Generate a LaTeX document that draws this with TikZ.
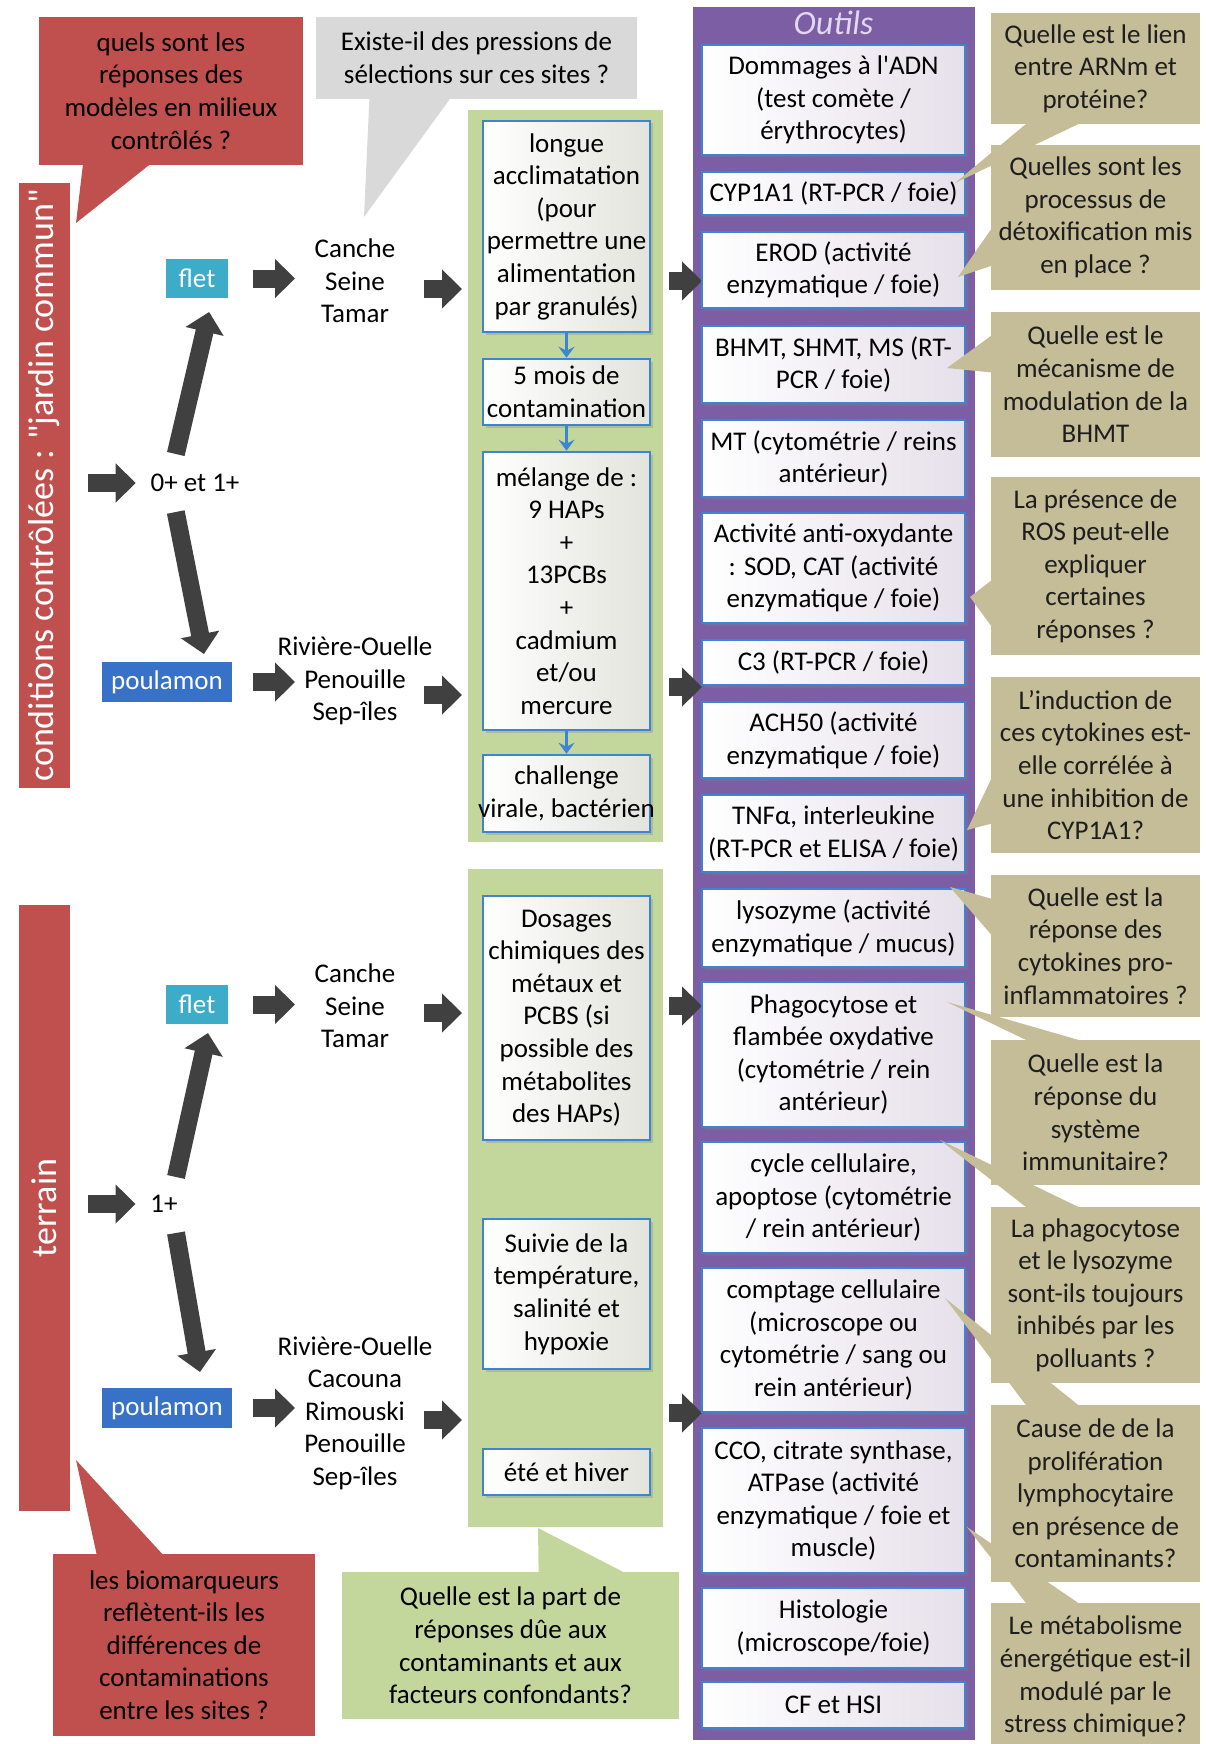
\documentclass[tikz,border=0pt]{standalone}
\usepackage{fontspec}
\setmainfont{Carlito}[Ligatures=TeXOff]
\usetikzlibrary{arrows.meta,shadows,calc}

\definecolor{rougeq}{RGB}{192,80,77}
\definecolor{grisq}{RGB}{217,217,217}
\definecolor{vertp}{RGB}{195,214,155}
\definecolor{violetp}{RGB}{124,94,164}
\definecolor{kakiq}{RGB}{196,189,151}
\definecolor{fletc}{RGB}{60,172,200}
\definecolor{poulc}{RGB}{56,114,200}
\definecolor{bordb}{RGB}{62,132,212}
\definecolor{flechg}{RGB}{64,64,64}
\definecolor{titrev}{RGB}{226,216,240}
\definecolor{fondo}{RGB}{230,224,234}
\definecolor{fondv}{RGB}{226,228,220}
\definecolor{textek}{RGB}{30,30,30}

\pgfdeclarelayer{dessus}
\pgfsetlayers{main,dessus}

\tikzset{every picture/.style={line width=0.75pt}}
\tikzset{
  txt/.style={font=\fontsize{27}{32.6}\selectfont, align=center, inner sep=0pt},
  ombre/.style={drop shadow={opacity=0.3, shadow xshift=2.5pt, shadow yshift=-2.5pt}},
  cadre/.style={draw=white, line width=6pt, ombre},
  bandeau/.style={cadre, fill=rougeq, text=white, inner sep=0pt, font=\fontsize{36}{40}\selectfont, minimum width=57pt},
  espece/.style={txt, draw=white, line width=5pt, ombre, text=white},
  lieux/.style={txt},
  etape/.style={txt, draw=bordb, line width=2.5pt, left color=white, right color=fondv, ombre, minimum width=167pt},
  outil/.style={txt, draw=bordb, line width=2.5pt, left color=white, right color=fondo, ombre, minimum width=263pt},
  question/.style={txt, fill=kakiq, text=textek, minimum width=209pt},
  grosse/.style={draw=flechg, line width=18pt, -{Triangle[width=38pt,length=20pt]}},
  petite/.style={draw=bordb, line width=3pt, -{Stealth[length=11pt,width=16pt,inset=4pt]}},
}

\begin{document}
\begin{tikzpicture}[x=1pt,y=-1pt]
	\useasboundingbox (0,0) rectangle (1205,1744);

	%Shape: Rectangle -- colonne Outils
	\node[cadre, fill=violetp, minimum width=288pt, minimum height=1739pt] (outils) at (834,873.5) {};
	% Text Node
	\node[font=\itshape\fontsize{34}{40}\selectfont, text=titrev, inner sep=0pt] (titre) at (833.5,23) {Outils};

	%Shape: Rectangle -- panneaux verts
	\node[cadre, fill=vertp, minimum width=201pt, minimum height=738pt] (vert1) at (565.5,476) {};
	\node[cadre, fill=vertp, minimum width=201pt, minimum height=664pt] (vert2) at (565.5,1198) {};

	%Shape: Rectangle -- bandeaux rouges
	\node[bandeau, minimum height=611pt] (bande1) at (44.5,485.5) {\rotatebox{90}{conditions contrôlées : "jardin commun"}};
	\node[bandeau, minimum height=612pt] (bande2) at (44.5,1208) {\rotatebox{90}{terrain}};

	%Shape: Rectangle -- especes
	\node[espece, fill=fletc, minimum width=67pt, minimum height=44pt] (flet1) at (197,278.5) {flet};
	\node[espece, fill=poulc, minimum width=135pt, minimum height=45pt] (poul1) at (167,682) {poulamon};
	\node[espece, fill=fletc, minimum width=67pt, minimum height=44pt] (flet2) at (197,1004.5) {flet};
	\node[espece, fill=poulc, minimum width=135pt, minimum height=45pt] (poul2) at (167,1408) {poulamon};

	% Text Node
	\node[txt] (age1) at (195,483) {0+ et 1+};
	% Text Node
	\node[txt] (age2) at (164,1204) {1+};
	% Text Node
	\node[lieux] (lieux1) at (355,281) {Canche\\Seine\\Tamar};
	% Text Node
	\node[lieux] (lieux2) at (355,681) {Rivière-Ouelle\\Penouille\\Sep-îles};
	% Text Node
	\node[lieux] (lieux3) at (355,1006) {Canche\\Seine\\Tamar};
	% Text Node
	\node[lieux] (lieux4) at (355,1413) {Rivière-Ouelle\\Cacouna\\Rimouski\\Penouille\\Sep-îles};

	%Straight Lines -- grosses fleches
	\draw[grosse, shorten <=12pt, shorten >=14.5pt] (bande1.east |- age1) -- (age1.west);
	\draw[grosse, shorten <=12pt, shorten >=14.5pt] (bande2.east |- age2) -- (age2.west);
	\draw[grosse, shorten <=29.8pt, shorten >=34.4pt] ($(age1.center)+(-26,0)$) -- ($(flet1.center)+(20,0)$);
	\draw[grosse, shorten <=29.6pt, shorten >=28.5pt] ($(age1.center)+(-25,0)$) -- ($(poul1.center)+(42.5,0)$);
	\draw[grosse, shorten <=27.7pt, shorten >=29.2pt] ($(age2.center)+(6,0)$) -- ($(flet2.center)+(17.3,0)$);
	\draw[grosse, shorten <=29.4pt, shorten >=36.5pt] ($(age2.center)+(7,0)$) -- ($(poul2.center)+(39.2,0)$);
	\draw[grosse, shorten <=19.5pt, shorten >=60pt] (flet1.east) -- (flet1.east -| lieux1.center);
	\draw[grosse, shorten <=15.5pt, shorten >=60pt] (poul1.east) -- (poul1.east -| lieux2.center);
	\draw[grosse, shorten <=19.5pt, shorten >=60pt] (flet2.east) -- (flet2.east -| lieux3.center);
	\draw[grosse, shorten <=15.5pt, shorten >=60pt] (poul2.east) -- (poul2.east -| lieux4.center);
	\coordinate (l1v) at ($(lieux1.center)+(0,8)$);
	\coordinate (l2v) at ($(lieux2.center)+(0,14)$);
	\coordinate (l3v) at ($(lieux3.center)+(0,7)$);
	\coordinate (l4v) at ($(lieux4.center)+(0,7)$);
	\coordinate (l2o) at ($(lieux2.center)+(0,6)$);
	\draw[grosse, shorten <=69pt] (l1v) -- (l1v -| vert1.west);
	\draw[grosse, shorten <=69pt] (l2v) -- (l2v -| vert1.west);
	\draw[grosse, shorten <=69pt] (l3v) -- (l3v -| vert2.west);
	\draw[grosse, shorten <=69pt] (l4v) -- (l4v -| vert2.west);
	\draw[grosse, shorten >=-15pt] (vert1.east |- lieux1.center) -- (outils.west |- lieux1.center);
	\draw[grosse, shorten >=-15pt] (vert1.east |- l2o) -- (outils.west |- l2o);
	\draw[grosse, shorten >=-15pt] (vert2.east |- lieux3.center) -- (outils.west |- lieux3.center);
	\draw[grosse, shorten >=-15pt] (vert2.east |- lieux4.center) -- (outils.west |- lieux4.center);

	%Shape: Rectangle -- etapes
	\node[etape, minimum height=211pt] (acclim) at (566.5,226.5) {longue\\acclimatation\\(pour\\permettre une\\alimentation\\par granulés)};
	\node[etape, minimum height=66pt] (contam) at (566.5,392) {5 mois de\\contamination};
	\node[etape, minimum height=278pt] (melange) at (566.5,591) {mélange de :\\9 HAPs\\+\\13PCBs\\+\\cadmium\\et/ou\\mercure};
	\node[etape, minimum height=77pt] (challenge) at (566.5,793.5) {challenge\\\makebox[160pt]{virale, bactérien}};
	\node[etape, minimum height=244pt] (dosages) at (566.5,1018) {Dosages\\chimiques des\\métaux et\\PCBS (si\\possible des\\métabolites\\des HAPs)};
	\node[etape, minimum height=150pt] (suivie) at (566.5,1294) {Suivie de la\\température,\\salinité et\\hypoxie};
	\node[etape, minimum height=46pt] (saison) at (566.5,1472) {été et hiver};
	%Straight Lines -- petites fleches
	\draw[petite] (acclim) -- (contam);
	\draw[petite] (contam) -- (melange);
	\draw[petite] (melange) -- (challenge);

	%Shape: Rectangle -- outils
	\node[outil, minimum height=110pt] (adn) at (833.5,100) {Dommages à l'ADN\\(test comète /\\érythrocytes)};
	\node[outil, minimum height=43pt] (cyp) at (833.5,193.5) {CYP1A1 (RT-PCR / foie)};
	\node[outil, minimum height=76pt] (erod) at (833.5,270) {EROD (activité\\enzymatique / foie)};
	\node[outil, minimum height=77pt] (bhmt) at (833.5,364.5) {BHMT, SHMT, MS (RT-\\PCR / foie)};
	\node[outil, minimum height=77pt] (mt) at (833.5,458.5) {MT (cytométrie / reins\\antérieur)};
	\node[outil, minimum height=110pt] (sod) at (833.5,568) {Activité anti-oxydante\\: SOD, CAT (activité\\enzymatique / foie)};
	\node[outil, minimum height=45pt] (cthree) at (833.5,662.5) {C3 (RT-PCR / foie)};
	\node[outil, minimum height=76pt] (ach) at (833.5,740) {ACH50 (activité\\enzymatique / foie)};
	\node[outil, minimum height=77pt] (tnf) at (833.5,833.5) {TNFα, interleukine\\(RT-PCR et ELISA / foie)};
	\node[outil, minimum height=78pt] (lyso) at (833.5,928) {lysozyme (activité\\enzymatique / mucus)};
	\node[outil, minimum height=145pt] (phago) at (833.5,1054.5) {Phagocytose et\\flambée oxydative\\(cytométrie / rein\\antérieur)};
	\node[outil, minimum height=111pt] (cycle) at (833.5,1197.5) {cycle cellulaire,\\apoptose (cytométrie\\/ rein antérieur)};
	\node[outil, minimum height=144pt] (comptage) at (833.5,1340) {comptage cellulaire\\(microscope ou\\cytométrie / sang ou\\rein antérieur)};
	\node[outil, minimum height=145pt] (cco) at (833.5,1500.5) {CCO, citrate synthase,\\ATPase (activité\\enzymatique / foie et\\muscle)};
	\node[outil, minimum height=80pt] (histo) at (833.5,1628) {Histologie\\(microscope/foie)};
	\node[outil, minimum height=46pt] (cfhsi) at (833.5,1705) {CF et HSI};

	%Shape: Callout -- questions (sur le calque du dessus, les pointes restent dessous)
	\begin{pgfonlayer}{dessus}
	\node[question, minimum height=111pt] (qa) at (1095.5,68.5) {Quelle est le lien\\entre ARNm et\\protéine?};
	\node[question, minimum height=145pt] (qb) at (1095.5,217.5) {Quelles sont les\\processus de\\détoxification mis\\en place ?};
	\node[question, minimum height=145pt] (qc) at (1095.5,384.5) {Quelle est le\\mécanisme de\\modulation de la\\BHMT};
	\node[question, minimum height=178pt] (qd) at (1095.5,566) {La présence de\\ROS peut-elle\\expliquer\\certaines\\réponses ?};
	\node[question, minimum height=176pt] (qe) at (1095.5,765) {L’induction de\\ces cytokines est-\\elle corrélée à\\une inhibition de\\CYP1A1?};
	\node[question, minimum height=142pt] (qf) at (1095.5,946) {Quelle est la\\réponse des\\cytokines pro-\\inflammatoires ?};
	\node[question, minimum height=145pt] (qg) at (1095.5,1112.5) {Quelle est la\\réponse du\\système\\immunitaire?};
	\node[question, minimum height=176pt] (qh) at (1095.5,1295) {La phagocytose\\et le lysozyme\\sont-ils toujours\\inhibés par les\\polluants ?};
	\node[question, minimum height=177pt] (qi) at (1095.5,1493.5) {Cause de de la\\prolifération\\lymphocytaire\\en présence de\\contaminants?};
	\node[question, minimum height=147pt] (qj) at (1095.5,1676.5) {Le métabolisme\\énergétique est-il\\modulé par le\\stress chimique?};
	\end{pgfonlayer}
	\coordinate (qa-pointe) at (955,183);
	\coordinate (qb-pointe) at (958,277);
	\coordinate (qc-pointe) at (947,368);
	\coordinate (qd-pointe) at (970,597);
	\coordinate (qe-pointe) at (967,830);
	\coordinate (qf-pointe) at (950,887);
	\coordinate (qg-pointe) at (947,1002);
	\coordinate (qh-pointe) at (940,1140);
	\coordinate (qi-pointe) at (945,1298);
	\coordinate (qj-pointe) at (967,1527);
	\fill[kakiq] ($(qa.south west)!2/12!(qa.south east)$) -- (qa-pointe) -- ($(qa.south west)!5/12!(qa.south east)$) -- cycle;
	\fill[kakiq] ($(qb.north west)!7/12!(qb.south west)$) -- (qb-pointe) -- ($(qb.north west)!10/12!(qb.south west)$) -- cycle;
	\fill[kakiq] ($(qc.north west)!2/12!(qc.south west)$) -- (qc-pointe) -- ($(qc.north west)!5/12!(qc.south west)$) -- cycle;
	\fill[kakiq] ($(qd.north west)!7/12!(qd.south west)$) -- (qd-pointe) -- ($(qd.north west)!10/12!(qd.south west)$) -- cycle;
	\fill[kakiq] ($(qe.north west)!7/12!(qe.south west)$) -- (qe-pointe) -- ($(qe.north west)!10/12!(qe.south west)$) -- cycle;
	\fill[kakiq] ($(qf.north west)!2/12!(qf.south west)$) -- (qf-pointe) -- ($(qf.north west)!5/12!(qf.south west)$) -- cycle;
	\fill[kakiq] ($(qg.north west)!2/12!(qg.north east)$) -- (qg-pointe) -- ($(qg.north west)!5/12!(qg.north east)$) -- cycle;
	\fill[kakiq] ($(qh.north west)!2/12!(qh.north east)$) -- (qh-pointe) -- ($(qh.north west)!5/12!(qh.north east)$) -- cycle;
	\fill[kakiq] ($(qi.north west)!2/12!(qi.north east)$) -- (qi-pointe) -- ($(qi.north west)!5/12!(qi.north east)$) -- cycle;
	\fill[kakiq] ($(qj.north west)!2/12!(qj.north east)$) -- (qj-pointe) -- ($(qj.north west)!5/12!(qj.north east)$) -- cycle;

	%Shape: Callout -- questions generales
	\node[txt, fill=rougeq, minimum width=264pt, minimum height=148pt] (qrouge1) at (171,91) {quels sont les\\réponses des\\modèles en milieux\\contrôlés ?};
	\node[txt, fill=grisq, minimum width=321pt, minimum height=82pt] (qgris) at (476.5,58) {Existe-il des pressions de\\sélections sur ces sites ?};
	\node[txt, fill=rougeq, minimum width=262pt, minimum height=182pt] (qrouge2) at (184,1645) {les biomarqueurs\\reflètent-ils les\\différences de\\contaminations\\entre les sites ?};
	\node[txt, fill=vertp, minimum width=337pt, minimum height=147pt] (qvert) at (510.5,1645.5) {Quelle est la part de\\réponses dûe aux\\contaminants et aux\\facteurs confondants?};
	\coordinate (qrouge1-pointe) at (76,223);
	\coordinate (qgris-pointe) at (364,217);
	\coordinate (qrouge2-pointe) at (76,1460);
	\coordinate (qvert-pointe) at (538,1528);
	\fill[rougeq] ($(qrouge1.south west)!2/12!(qrouge1.south east)$) -- (qrouge1-pointe) -- ($(qrouge1.south west)!5/12!(qrouge1.south east)$) -- cycle;
	\fill[grisq] ($(qgris.south west)!2/12!(qgris.south east)$) -- (qgris-pointe) -- ($(qgris.south west)!5/12!(qgris.south east)$) -- cycle;
	\fill[rougeq] ($(qrouge2.north west)!2/12!(qrouge2.north east)$) -- (qrouge2-pointe) -- ($(qrouge2.north west)!5/12!(qrouge2.north east)$) -- cycle;
	\fill[vertp] ($(qvert.north west)!7/12!(qvert.north east)$) -- (qvert-pointe) -- ($(qvert.north west)!10/12!(qvert.north east)$) -- cycle;
\end{tikzpicture}
\end{document}
